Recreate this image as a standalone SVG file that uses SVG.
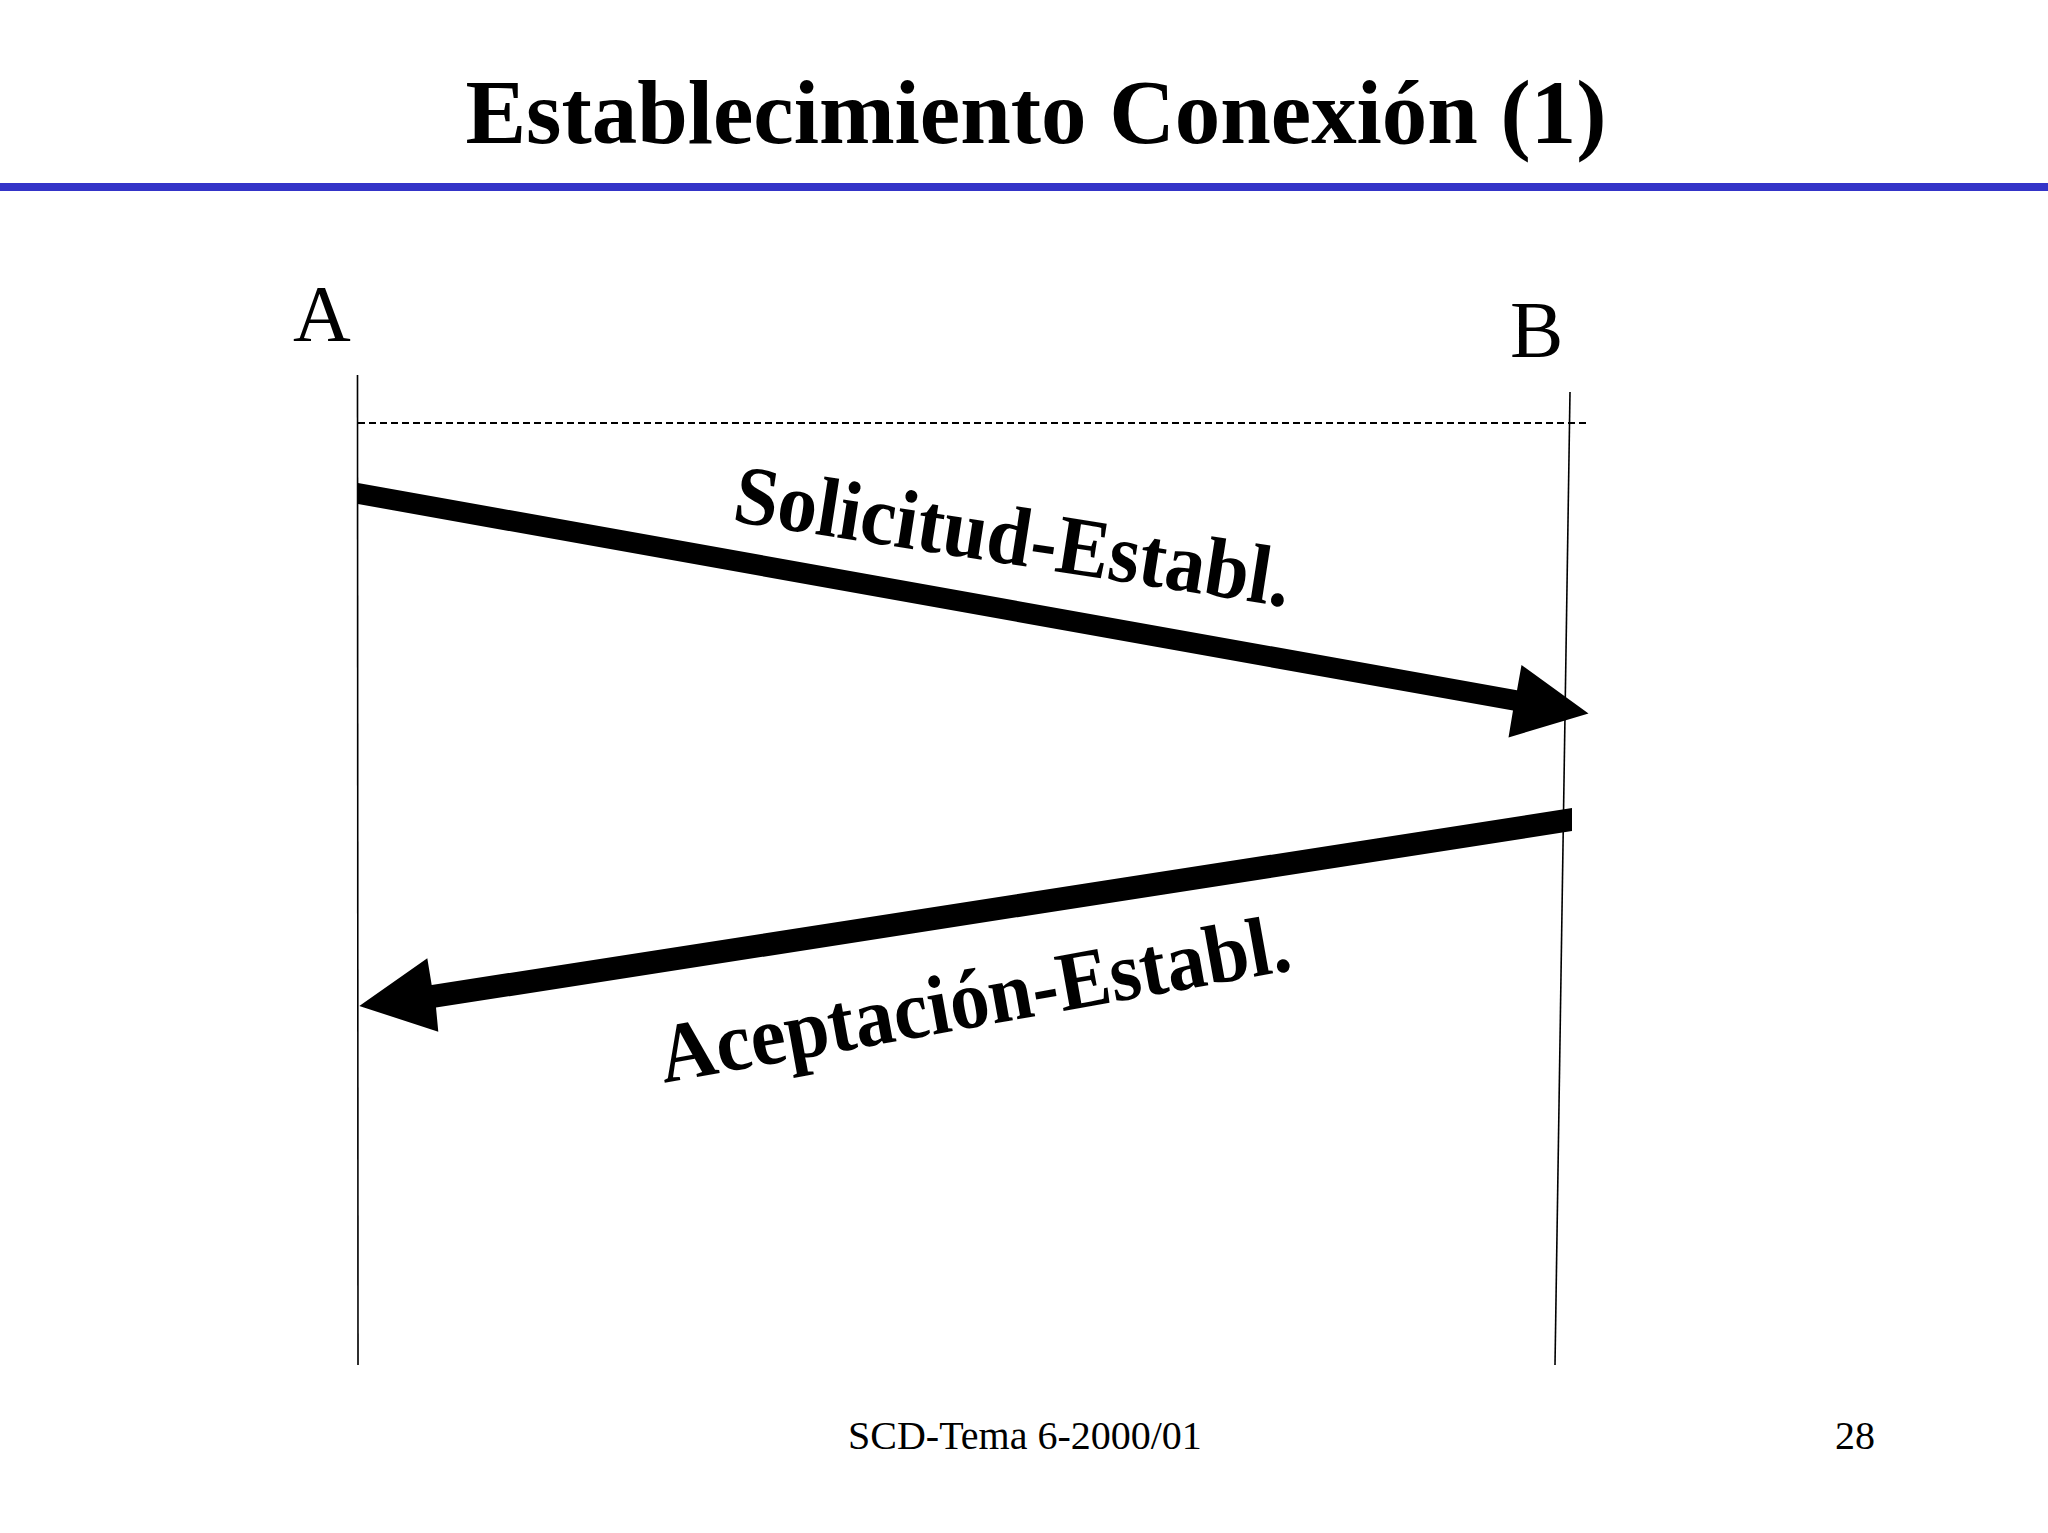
<svg xmlns="http://www.w3.org/2000/svg" width="2048" height="1533" viewBox="0 0 2048 1533">
<style>
.serif{font-family:"Liberation Serif","Times New Roman",serif;fill:#000}
.b{font-weight:bold}
.life{stroke:#000;stroke-width:1.6;fill:none}
.arrow{fill:#000;stroke:none}
</style>
<rect x="0" y="0" width="2048" height="1533" fill="#ffffff"/>
<g id="title">
<text class="serif b" x="1036" y="143" font-size="92" text-anchor="middle" textLength="1141" lengthAdjust="spacingAndGlyphs">Establecimiento Conexión (1)</text>
<rect x="0" y="183" width="2048" height="8" fill="#3434c8"/>
</g>
<g id="node-A">
<text class="serif" x="293" y="341" font-size="80">A</text>
<line class="life" x1="357.5" y1="375" x2="358" y2="1365"/>
</g>
<g id="node-B">
<text class="serif" x="1510" y="357" font-size="80">B</text>
<line class="life" x1="1570" y1="392" x2="1555" y2="1365"/>
</g>
<g id="connectors">
<line x1="358" y1="423" x2="1588" y2="423" stroke="#000" stroke-width="2.2" stroke-dasharray="7 4"/>
<polygon class="arrow" points="358,483 1517,690.2 1521.5,665 1588.5,713.5 1508.5,737.5 1513,710.6 358,504"/>
<text class="serif b" font-size="84" transform="translate(731,521) rotate(8.8)" textLength="562" lengthAdjust="spacingAndGlyphs">Solicitud-Establ.</text>
<polygon class="arrow" points="1572,808 431.7,985 427.3,958.3 359.3,1006 438.3,1031.7 436,1007.6 1572,831"/>
<text class="serif b" font-size="84" transform="translate(664,1083) rotate(-10.2)" textLength="640" lengthAdjust="spacingAndGlyphs">Aceptación-Establ.</text>
</g>
<g id="footer">
<text class="serif" x="848" y="1449" font-size="40">SCD-Tema 6-2000/01</text>
<text class="serif" x="1875" y="1449" font-size="40" text-anchor="end">28</text>
</g>
</svg>
